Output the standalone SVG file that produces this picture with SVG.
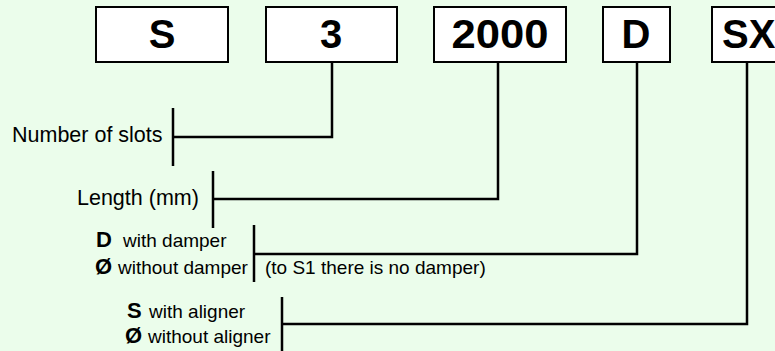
<svg xmlns="http://www.w3.org/2000/svg" width="775" height="351" viewBox="0 0 775 351">
<style>
.box{fill:#fff;stroke:#000;stroke-width:2}
.bt{font-family:"Liberation Sans",Arial,sans-serif;font-weight:bold;font-size:40px;text-anchor:middle;fill:#000}
.lbl{font-family:"Liberation Sans",Arial,sans-serif;font-size:19px;fill:#000}
.big{font-size:21.5px}
.b{font-weight:bold;font-size:22px}
.ln{fill:none;stroke:#000;stroke-width:2.5}
</style>
<rect width="775" height="351" fill="#ebfdeb"/>
<g id="node-S"><rect class="box" x="96" y="7" width="132" height="55"/><text class="bt" x="162" y="48">S</text></g>
<g id="node-3"><rect class="box" x="266" y="7" width="131" height="55"/><text class="bt" x="331" y="48">3</text></g>
<g id="node-2000"><rect class="box" x="434" y="7" width="132" height="55"/><text class="bt" x="500" y="48" textLength="97" lengthAdjust="spacingAndGlyphs">2000</text></g>
<g id="node-D"><rect class="box" x="603" y="7" width="67" height="55"/><text class="bt" x="636" y="48">D</text></g>
<g id="node-SX"><rect class="box" x="712" y="7" width="80" height="55"/><text class="bt" x="722" y="48" style="text-anchor:start">SX</text></g>
<g id="label-slots"><text class="lbl big" x="12" y="142">Number of slots</text></g>
<g id="label-length"><text class="lbl big" x="77" y="205">Length (mm)</text></g>
<g id="label-damper">
<text class="lbl" x="96" y="247"><tspan class="b">D</tspan><tspan x="123">with damper</tspan></text>
<text class="lbl" x="95" y="274"><tspan class="b">Ø</tspan><tspan x="118">without damper</tspan></text>
<text class="lbl" x="265" y="274">(to S1 there is no damper)</text>
</g>
<g id="label-aligner">
<text class="lbl" x="127" y="318"><tspan class="b">S</tspan><tspan x="149">with aligner</tspan></text>
<text class="lbl" x="125" y="343"><tspan class="b">Ø</tspan><tspan x="148">without aligner</tspan></text>
</g>
<g id="connectors">
<path class="ln" d="M332 62V137H173M173 108V166"/>
<path class="ln" d="M498 62V199H213M213 171V228"/>
<path class="ln" d="M637 62V254H254M254 225V282"/>
<path class="ln" d="M747 62V324H282M282 297V351"/>
</g>
</svg>
